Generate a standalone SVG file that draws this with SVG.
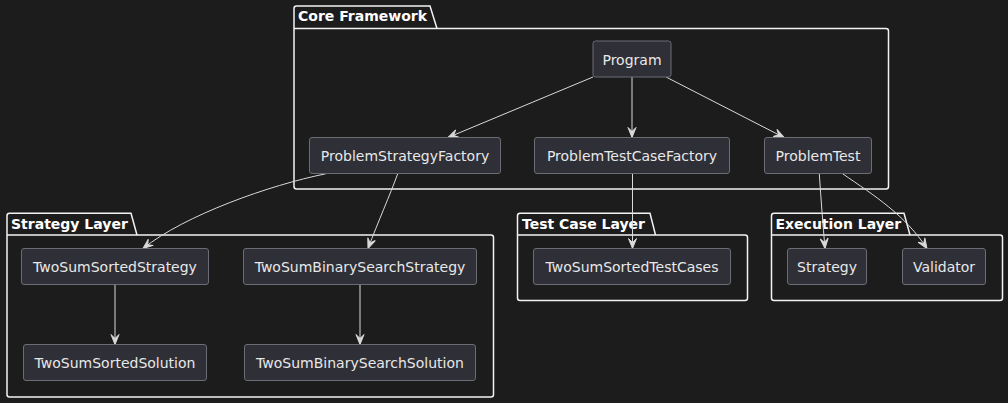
<svg xmlns="http://www.w3.org/2000/svg" width="1008" height="403" viewBox="0 0 1008 403">
<style>
.pkg{fill:none;stroke:#f2f2f2;stroke-width:1.5}
.pt{font-family:"DejaVu Sans",sans-serif;font-size:14px;font-weight:bold;fill:#ffffff}
.node rect{fill:#2f2f37;stroke:#6c6c74;stroke-width:1}
.node text{font-family:"DejaVu Sans",sans-serif;font-size:14px;fill:#e8e8e8;text-anchor:middle}
.edge{fill:none;stroke:#d9d9d9;stroke-width:1;marker-end:url(#ah)}
</style>
<defs>
<marker id="ah" markerUnits="userSpaceOnUse" markerWidth="12" markerHeight="10" viewBox="0 0 12 10" refX="11" refY="5" orient="auto">
<path d="M1,1 L11,5 L1,9 L5,5 Z" fill="#d9d9d9" stroke="#d9d9d9" stroke-width="1"/>
</marker>
</defs>
<rect width="1008" height="403" fill="#1c1c1c"/>

<g id="pkg-core">
<path class="pkg" d="M294,8.5 Q294,6 296.5,6 L430,6 L437,28.5 L886,28.5 Q888.5,28.5 888.5,31 L888.5,186.5 Q888.5,189 886,189 L296.5,189 Q294,189 294,186.5 Z M294,28.5 L437,28.5"/>
<text class="pt" x="298" y="21">Core Framework</text>
</g>
<g id="pkg-strategy">
<path class="pkg" d="M7,215.8 Q7,213.3 9.5,213.3 L131,213.3 L137,235 L491,235 Q493.5,235 493.5,237.5 L493.5,394.5 Q493.5,397 491,397 L9.5,397 Q7,397 7,394.5 Z M7,235 L137,235"/>
<text class="pt" x="11" y="229">Strategy Layer</text>
</g>
<g id="pkg-testcase">
<path class="pkg" d="M517.5,215.8 Q517.5,213.3 520,213.3 L650,213.3 L655.5,235 L745,235 Q747.5,235 747.5,237.5 L747.5,298 Q747.5,300.5 745,300.5 L520,300.5 Q517.5,300.5 517.5,298 Z M517.5,235 L655.5,235"/>
<text class="pt" x="522" y="229">Test Case Layer</text>
</g>
<g id="pkg-exec">
<path class="pkg" d="M771.5,215.8 Q771.5,213.3 774,213.3 L904,213.3 L910,235 L1000,235 Q1002.5,235 1002.5,237.5 L1002.5,298 Q1002.5,300.5 1000,300.5 L774,300.5 Q771.5,300.5 771.5,298 Z M771.5,235 L910,235"/>
<text class="pt" x="775.5" y="229">Execution Layer</text>
</g>

<g id="connectors">
<path class="edge" d="M593,77 L448,137.5"/>
<path class="edge" d="M632,77 L632,137.5"/>
<path class="edge" d="M666,77 L784,137.5"/>
<path class="edge" d="M325.7,173.8 C270,185 185,215 143,248.5"/>
<path class="edge" d="M397.7,173.8 C390,195 378,222 368,248.5"/>
<path class="edge" d="M632.5,173.5 L632.5,248.5"/>
<path class="edge" d="M819.3,173.8 C821,200 823,225 825,248.5"/>
<path class="edge" d="M842.7,173.8 C875,196 905,215 927,248.5"/>
<path class="edge" d="M115,284.5 L115,344.5"/>
<path class="edge" d="M360,284.5 L360,344.5"/>
</g>

<g id="Program" class="node"><rect x="593" y="41" width="78" height="36" rx="2.5"/><text x="632" y="64.5">Program</text></g>
<g id="ProblemStrategyFactory" class="node"><rect x="309.5" y="137.5" width="191" height="36" rx="2.5"/><text x="405" y="161">ProblemStrategyFactory</text></g>
<g id="ProblemTestCaseFactory" class="node"><rect x="534.5" y="137.5" width="195" height="36" rx="2.5"/><text x="632" y="161">ProblemTestCaseFactory</text></g>
<g id="ProblemTest" class="node"><rect x="764.5" y="137.5" width="107" height="36" rx="2.5"/><text x="818" y="161">ProblemTest</text></g>
<g id="TwoSumSortedStrategy" class="node"><rect x="21.5" y="248.5" width="187" height="36" rx="2.5"/><text x="115" y="272">TwoSumSortedStrategy</text></g>
<g id="TwoSumBinarySearchStrategy" class="node"><rect x="243.5" y="248.5" width="233" height="36" rx="2.5"/><text x="360" y="272">TwoSumBinarySearchStrategy</text></g>
<g id="TwoSumSortedSolution" class="node"><rect x="23.5" y="344.5" width="183" height="36" rx="2.5"/><text x="115" y="368">TwoSumSortedSolution</text></g>
<g id="TwoSumBinarySearchSolution" class="node"><rect x="244.5" y="344.5" width="231" height="36" rx="2.5"/><text x="360" y="368">TwoSumBinarySearchSolution</text></g>
<g id="TwoSumSortedTestCases" class="node"><rect x="533.5" y="248.5" width="197" height="36" rx="2.5"/><text x="632" y="272">TwoSumSortedTestCases</text></g>
<g id="Strategy" class="node"><rect x="787.5" y="248.5" width="79" height="36" rx="2.5"/><text x="827" y="272">Strategy</text></g>
<g id="Validator" class="node"><rect x="902.5" y="248.5" width="83" height="36" rx="2.5"/><text x="944" y="272">Validator</text></g>
</svg>
